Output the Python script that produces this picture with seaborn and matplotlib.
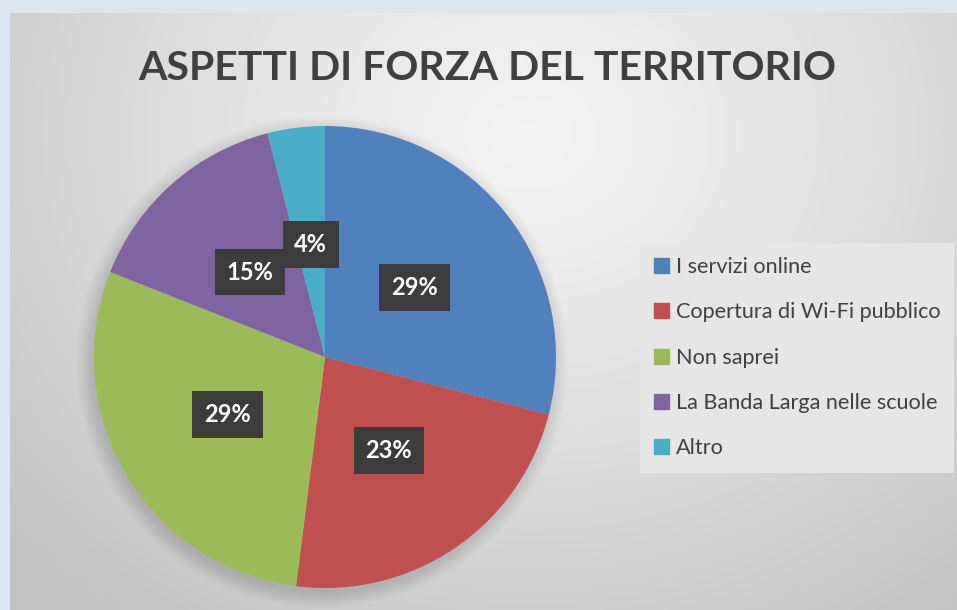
import matplotlib
matplotlib.use("Agg")
import matplotlib.pyplot as plt
import numpy as np
import seaborn as sns
from matplotlib.patches import Circle, Rectangle

categories = ["I servizi online", "Copertura di Wi-Fi pubblico", "Non saprei",
              "La Banda Larga nelle scuole", "Altro"]
values = [29, 23, 29, 15, 4]
hex_colors = ["#4f81bd", "#c0504d", "#9bbb59", "#8064a2", "#4bacc6"]
title = "ASPETTI DI FORZA DEL TERRITORIO"

sns.set_theme(style="white")
plt.rcParams["font.family"] = ["Lato", "DejaVu Sans"]
colors = sns.color_palette(hex_colors)

W, H = 957, 610
fig = plt.figure(figsize=(W / 100, H / 100), dpi=100)
fig.patch.set_facecolor("#dce6f2")

# chart area with soft radial gradient
bg = fig.add_axes([10 / W, 0, (W - 10) / W, (H - 13) / H])
yy, xx = np.mgrid[0:597, 0:947]
d = np.sqrt(((xx - 520) / 700) ** 2 + ((yy - 120) / 600) ** 2)
shade = 0.95 - 0.19 * np.clip(d, 0, 1) ** 1.3
bg.imshow(np.dstack([shade] * 3), aspect="auto", interpolation="bilinear")
bg.set_axis_off()

# pie
cx, cy, r = 325, 357, 231
ax = fig.add_axes([(cx - r) / W, (H - cy - r) / H, 2 * r / W, 2 * r / H])
ax.set_axis_off()

for k in range(10):
    ax.add_patch(Circle((-0.012, -0.02), 1.0 + 0.007 * k, color="black",
                        alpha=0.012, lw=0, zorder=0, clip_on=False))

wedges, _, autotexts = ax.pie(
    values, colors=colors, startangle=90, counterclock=False, radius=1.0,
    autopct="%d%%", pctdistance=0.49,
    wedgeprops=dict(linewidth=0),
    textprops=dict(color="white", fontsize=17, fontweight="bold"),
)
for t in autotexts:
    t.set_bbox(dict(boxstyle="square,pad=0.5", fc="#3c3c3c", ec="none"))
ax.set_xlim(-1, 1)
ax.set_ylim(-1, 1)

fig.text(487 / W, 1 - 68 / H, title, ha="center", va="center",
         fontsize=29.5, fontweight="bold", color="#404040")

handles = [Rectangle((0, 0), 1, 1, color=c) for c in colors]
leg = fig.legend(handles, categories, loc="upper left",
                 bbox_to_anchor=(640 / W, 1 - 243 / H),
                 frameon=True, fancybox=False, fontsize=15.6,
                 labelspacing=1.17, handlelength=0.7, handleheight=0.7,
                 handletextpad=0.3, borderpad=0.65, borderaxespad=0)
leg.get_frame().set_facecolor("#e6e6e6")
leg.get_frame().set_edgecolor("none")
leg.get_frame().set_alpha(1)
for t in leg.get_texts():
    t.set_color("#404040")

fig.savefig("out.png", dpi=100)
